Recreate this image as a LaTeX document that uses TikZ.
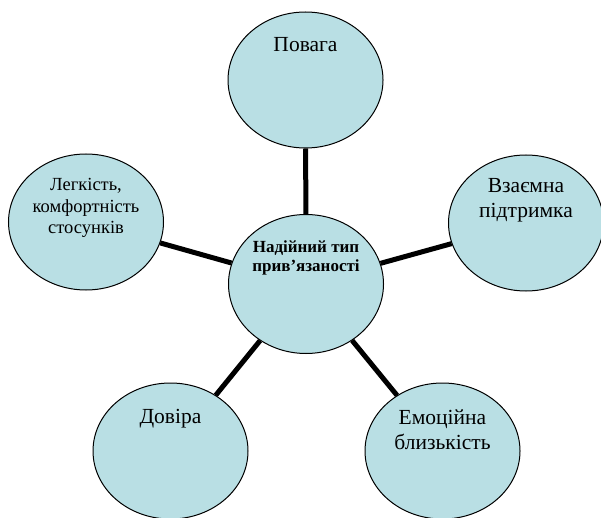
\documentclass[tikz,border=0pt]{standalone}
\usepackage{fontspec}
\setmainfont{Liberation Serif}
\usepackage{tikz}
\usetikzlibrary{positioning, shapes.geometric}
\definecolor{bubble}{RGB}{185,223,228}

\begin{document}
\begin{tikzpicture}[
        x=1pt, y=-1pt,
        every node/.style={align=center, inner sep=0pt},
        bub/.style={draw, ellipse, fill=bubble, line width=1pt, minimum width=155pt, minimum height=136pt},
        big/.style={font=\fontsize{21.5}{25}\selectfont},
        small/.style={font=\fontsize{18.5}{21.5}\selectfont},
        main/.style={font=\fontsize{17}{18.5}\selectfont\bfseries},
        link/.style={line width=5pt}
    ]
      \useasboundingbox (0,0) rectangle (601,518);
      \node[bub, minimum height=139pt] (c) at (306,284) {};
      \node[bub] (r1) at (305.5,80) {};
      \node[bub] (r2) at (526,223) {};
      \node[bub] (r3) at (442.5,451) {};
      \node[bub] (r4) at (170.5,451) {};
      \node[bub] (r5) at (86,222) {};

      \draw [-, link] (c) edge (r1);
      \draw [-, link] (c) edge (r2);
      \draw [-, link] (c) edge (r3);
      \draw [-, link] (c) edge (r4);
      \draw [-, link] (c) edge (r5);

      \node [main, below=27pt of c.north] (t0) {Надійний тип\\прив’язаності};
      \node [big, below=26pt of r1.north] (t1) {Повага};
      \node [big, below=24pt of r2.north] (t2) {Взаємна\\підтримка};
      \node [big, below=27pt of r3.north] (t3) {Емоційна\\близькість};
      \node [big, below=27pt of r4.north] (t4) {Довіра};
      \node [small, below=25pt of r5.north] (t5) {Легкість,\\комфортність\\стосунків};
    \end{tikzpicture}
\end{document}
